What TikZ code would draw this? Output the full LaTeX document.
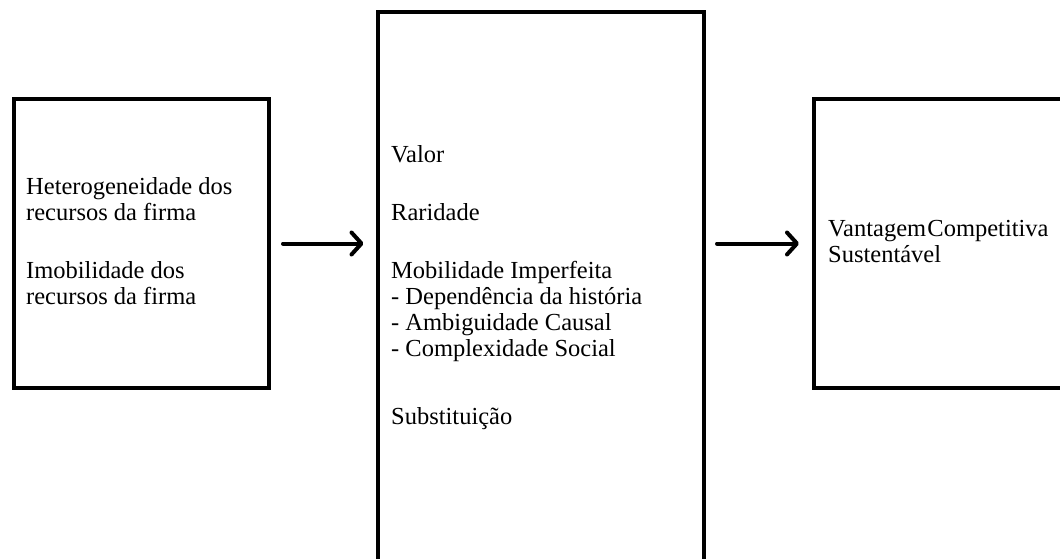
\documentclass[tikz,border=0pt]{standalone}
\usepackage{fontspec}
\setmainfont{Liberation Serif}
\usetikzlibrary{arrows.meta}
\begin{document}
\begin{tikzpicture}[x=1pt,y=-1pt,
  boxline/.style={draw=black,line width=4pt,inner sep=0pt,outer sep=0pt,anchor=north west},
  txt/.style={anchor=base west,inner sep=0pt,font=\fontsize{24.5}{27}\selectfont},
  conn/.style={line width=4pt,line cap=round,-{Straight Barb[length=10pt,width=22pt,line cap=round,line join=round]}}]
\useasboundingbox (0,0) rectangle (1060,559);
\clip (0,0) rectangle (1060,559);
\node[boxline,minimum width=255pt,minimum height=289pt] (left) at (14,99) {};
\node[boxline,minimum width=326.5pt,minimum height=588pt] (mid) at (377.5,12.5) {};
\node[boxline,minimum width=290pt,minimum height=289pt] (right) at (814,99) {};
% left texts
\node[txt] (l1) at (26,194) {Heterogeneidade dos};
\node[txt] (l2) at (26,220) {recursos da firma};
\node[txt] (l3) at (26,278) {Imobilidade dos};
\node[txt] (l4) at (26,304) {recursos da firma};
% middle texts
\node[txt] (m1) at (391,162) {Valor};
\node[txt] (m2) at (391,220) {Raridade};
\node[txt] (m3) at (391,278) {Mobilidade Imperfeita};
\node[txt] (m4) at (391,304) {- Dependência da história};
\node[txt] (m5) at (391,330) {- Ambiguidade Causal};
\node[txt] (m6) at (391,356) {- Complexidade Social};
\node[txt] (m7) at (391,424) {Substituição};
% right texts
\node[txt] (r1) at (828,236) {Vantagem\hspace{0.05em}Competitiva};
\node[txt] (r2) at (828,262) {Sustentável};
% connectors
\draw[conn] ([xshift=14pt]left.east) -- ([xshift=-14pt]mid.west |- left.east);
\draw[conn] ([xshift=13pt]mid.east |- right.west) -- ([xshift=-15pt]right.west);
\end{tikzpicture}
\end{document}
